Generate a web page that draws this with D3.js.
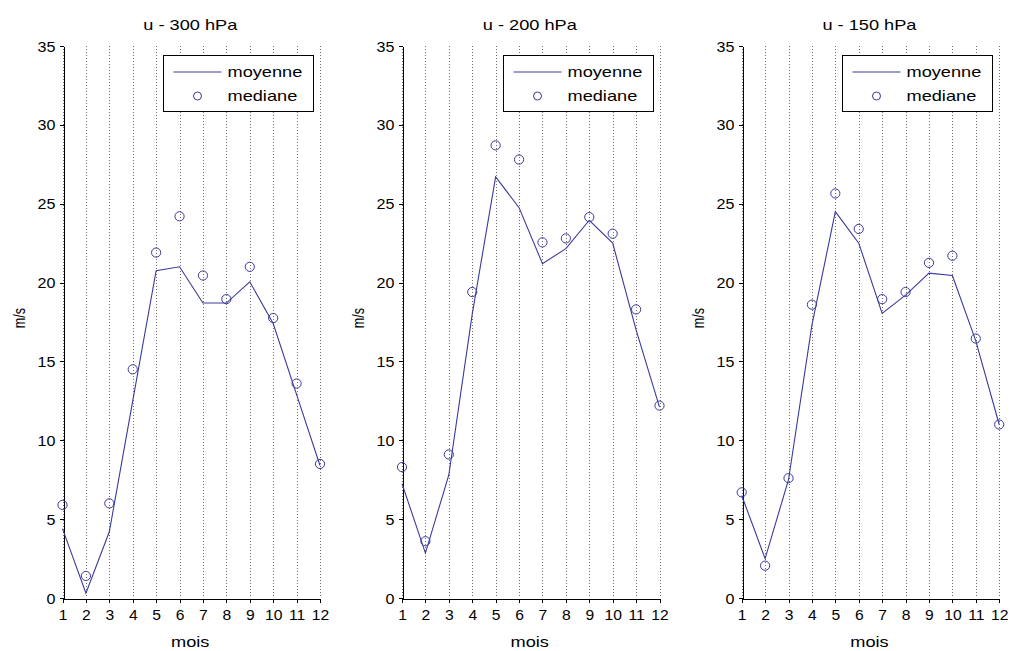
<!DOCTYPE html>
<html>
<head>
<meta charset="utf-8">
<script src="https://cdn.jsdelivr.net/npm/d3@7"></script>
<style>
  html, body { margin: 0; padding: 0; background: #fff; }
  svg { display: block; }
  text { font-family: "Liberation Sans", Arial, Helvetica, sans-serif; fill: #000; }
</style>
</head>
<body>
<svg id="chart" width="1012" height="651"></svg>
<script>
// ---- data ----
const months = [1, 2, 3, 4, 5, 6, 7, 8, 9, 10, 11, 12];
const titles = ["u - 300 hPa", "u - 200 hPa", "u - 150 hPa"];
const mean300   = [4.4, 0.3, 4.2, 12.5, 20.75, 21.0, 18.7, 18.7, 20.05, 17.4, 12.9, 8.4];
const median300 = [5.9, 1.4, 6.0, 14.5, 21.9, 24.2, 20.45, 18.95, 21.0, 17.75, 13.6, 8.5];
const mean200   = [7.25, 2.85, 7.8, 18.0, 26.7, 24.75, 21.2, 22.15, 23.95, 22.5, 17.0, 12.1];
const median200 = [8.3, 3.6, 9.1, 19.4, 28.7, 27.8, 22.55, 22.8, 24.15, 23.1, 18.3, 12.2];
const mean150   = [6.5, 2.5, 7.5, 17.3, 24.5, 22.5, 18.05, 19.2, 20.6, 20.45, 16.3, 11.0];
const median150 = [6.7, 2.05, 7.6, 18.6, 25.65, 23.4, 18.95, 19.4, 21.25, 21.7, 16.45, 11.0];
const yTicks = [0, 5, 10, 15, 20, 25, 30, 35];
const xLabel = "mois";
const yLabel = "m/s";
const legendLabels = ["moyenne", "mediane"];

const panels = [
  { title: titles[0], mean: mean300, median: median300 },
  { title: titles[1], mean: mean200, median: median200 },
  { title: titles[2], mean: mean150, median: median150 }
];

// ---- layout ----
const svg = d3.select("#chart");
const color = "#3a3a9c";
const plotTop = 46, plotBottom = 598, panelW = 257.5;
const lefts = [62.5, 402, 741.7];

panels.forEach((p, i) => {
  const L = lefts[i];
  const x = d3.scaleLinear().domain([1, 12]).range([L, L + panelW]);
  const y = d3.scaleLinear().domain([0, 35]).range([plotBottom, plotTop]);
  const g = svg.append("g");

  // vertical dotted grid
  g.append("g").selectAll("line").data(months).join("line")
    .attr("x1", d => Math.round(x(d)) + 0.5).attr("x2", d => Math.round(x(d)) + 0.5)
    .attr("y1", plotTop).attr("y2", plotBottom)
    .attr("stroke", "#6a6a6a").attr("stroke-width", 1)
    .attr("stroke-dasharray", "1,2")
    .attr("shape-rendering", "crispEdges");

  // y axis
  const ya = g.append("g").attr("transform", `translate(${Math.round(L) + 0.5},0)`)
    .call(d3.axisLeft(y).tickValues(yTicks).tickSize(4).tickSizeOuter(0).tickPadding(0));
  ya.select(".domain").attr("stroke", "#000").attr("shape-rendering", "crispEdges");
  ya.selectAll(".tick line").attr("stroke", "#000").attr("shape-rendering", "crispEdges");
  ya.selectAll(".tick text").remove();
  ya.selectAll(".tick").append("text")
    .attr("transform", "translate(-8,0) scale(1.15,1)")
    .attr("text-anchor", "end").attr("dominant-baseline", "central")
    .attr("font-size", "14px")
    .text(d => d);

  // x axis
  const xa = g.append("g").attr("transform", `translate(0,${plotBottom + 0.5})`)
    .call(d3.axisBottom(x).tickValues(months).tickSize(4).tickSizeOuter(0).tickPadding(0));
  xa.select(".domain").attr("stroke", "#000").attr("shape-rendering", "crispEdges");
  xa.selectAll(".tick line").attr("stroke", "#000").attr("shape-rendering", "crispEdges");
  xa.selectAll(".tick text").remove();
  xa.selectAll(".tick").append("text")
    .attr("transform", "translate(0,21.5) scale(1.12,1)")
    .attr("text-anchor", "middle")
    .attr("font-size", "14px")
    .text(d => d);

  // title
  g.append("text")
    .attr("transform", `translate(${L + panelW / 2 - 1},30) scale(1.3,1)`)
    .attr("text-anchor", "middle").attr("font-size", "14px")
    .text(p.title);

  // x label
  g.append("text")
    .attr("transform", `translate(${L + panelW / 2 - 1},647) scale(1.3,1)`)
    .attr("text-anchor", "middle").attr("font-size", "14px")
    .text(xLabel);

  // y label
  g.append("text")
    .attr("transform", `translate(${L - 38},318) rotate(-90) scale(0.9,1.15)`)
    .attr("text-anchor", "middle").attr("font-size", "14px")
    .text(yLabel);

  // mean line
  const line = d3.line().x((d, j) => x(months[j])).y(d => y(d));
  g.append("path").datum(p.mean)
    .attr("d", line).attr("fill", "none")
    .attr("stroke", color).attr("stroke-width", 1.1);

  // median circles
  g.append("g").selectAll("circle").data(p.median).join("circle")
    .attr("cx", (d, j) => x(months[j])).attr("cy", d => y(d))
    .attr("r", 4.6).attr("fill", "none")
    .attr("stroke", color).attr("stroke-width", 1);

  // legend
  const lx = Math.round(L + 100.5) + 0.5, ly = 55.5, lw = 150, lh = 56;
  const lg = g.append("g");
  lg.append("rect").attr("x", lx).attr("y", ly).attr("width", lw).attr("height", lh)
    .attr("fill", "#fff").attr("stroke", "#000").attr("stroke-width", 1)
    .attr("shape-rendering", "crispEdges");
  lg.append("line").attr("x1", lx + 10).attr("x2", lx + 58)
    .attr("y1", ly + 16.5).attr("y2", ly + 16.5)
    .attr("stroke", color).attr("stroke-width", 1.1);
  lg.append("circle").attr("cx", lx + 34).attr("cy", ly + 40.5).attr("r", 4)
    .attr("fill", "none").attr("stroke", color).attr("stroke-width", 1);
  legendLabels.forEach((t, k) => {
    lg.append("text")
      .attr("transform", `translate(${lx + 64},${ly + 16.5 + k * 24}) scale(1.3,1)`)
      .attr("dominant-baseline", "central").attr("font-size", "14px")
      .text(t);
  });
});
</script>
</body>
</html>
